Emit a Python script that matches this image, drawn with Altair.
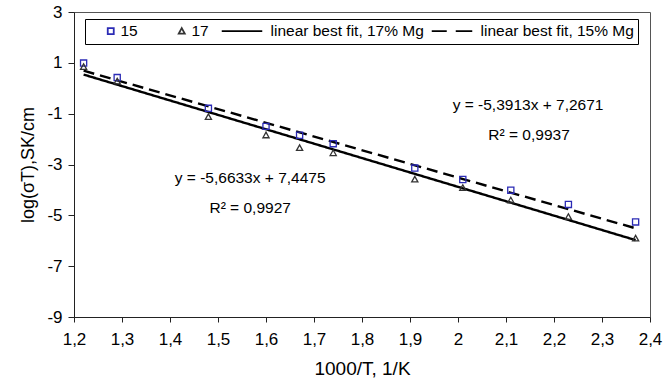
import altair as alt
import pandas as pd

# ---- data ----
x_vals = [1.22, 1.29, 1.48, 1.60, 1.67, 1.74, 1.91, 2.01, 2.11, 2.23, 2.37]
y_15 = [0.99, 0.42, -0.79, -1.50, -1.85, -2.18, -3.14, -3.59, -4.01, -4.57, -5.26]
y_17 = [0.84, 0.27, -1.13, -1.85, -2.35, -2.55, -3.59, -3.92, -4.41, -5.06, -5.91]

series = ["15", "17", "linear best fit, 17% Mg", "linear best fit, 15% Mg"]

fit_x = [1.22, 2.37]
fit17_slope, fit17_icpt = -5.6633, 7.4475
fit15_slope, fit15_icpt = -5.3913, 7.2671

ann_x = [2.146, 2.148, 1.567, 1.567]
ann_y = [-0.67, -1.85, -3.54, -4.72]
ann_text = ["y = -5,3913x + 7,2671", "R² = 0,9937", "y = -5,6633x + 7,4475", "R² = 0,9927"]

x_ticks = [1.2, 1.3, 1.4, 1.5, 1.6, 1.7, 1.8, 1.9, 2.0, 2.1, 2.2, 2.3, 2.4]
y_ticks = [-9, -7, -5, -3, -1, 1, 3]

# ---- tables ----
pts = pd.DataFrame({
    "x": x_vals + x_vals,
    "y": y_15 + y_17,
    "series": ["15"] * len(x_vals) + ["17"] * len(x_vals),
})
fit = pd.DataFrame({
    "x": fit_x + fit_x,
    "y": [fit17_slope * v + fit17_icpt for v in fit_x] + [fit15_slope * v + fit15_icpt for v in fit_x],
    "fit": ["17", "17", "15", "15"],
})
ann = pd.DataFrame({"x": ann_x, "y": ann_y, "text": ann_text})

FONT = "Liberation Sans"

xscale = alt.Scale(domain=[1.2, 2.4], nice=False, zero=False)
yscale = alt.Scale(domain=[-9, 3], nice=False, zero=False)

xaxis = alt.Axis(values=x_ticks, labelExpr="replace('' + datum.value, '.', ',')",
                 grid=False, tickSize=5, labelPadding=9, labelFontSize=17,
                 titleFontSize=19, titlePadding=12, labelFlush=False)
yaxis = alt.Axis(values=y_ticks, labelExpr="'' + datum.value",
                 grid=False, tickSize=6, labelPadding=6, labelFontSize=17,
                 titleFontSize=18, titlePadding=9)

X = alt.X("x:Q", scale=xscale, axis=xaxis, title="1000/T, 1/K")
Y = alt.Y("y:Q", scale=yscale, axis=yaxis, title="log(σT),SK/cm")

# symbol shapes; the zero-length sub-paths are invisible and only widen the legend spacing
shapes = [
    "square",
    "M-12,0L-12,0M0,-1L1,0.8L-1,0.8Z",
    "M-14.5,0L-14.5,0M-13,0H0.5",
    "M-13,0H-8M-5,0H0.5",
]
colors = ["#2b2bb5", "#333333", "#000000", "#000000"]

leg = alt.Legend(title="xx", titleColor="white", titleOrient="left", titlePadding=0,
                 titleFontSize=12,
                 orient="none", legendX=11, legendY=7,
                 direction="horizontal", fillColor="white", strokeColor="black",
                 padding=4, labelFontSize=15.5, labelFont=FONT, labelColor="black",
                 columnPadding=4, symbolSize=36, symbolStrokeWidth=1.8, labelOffset=2,
                 symbolFillColor="white")

lines = alt.Chart(fit).mark_line(color="black", strokeWidth=2.4).encode(
    x=X, y=Y,
    strokeDash=alt.StrokeDash("fit:N", scale=alt.Scale(domain=["17", "15"], range=[[1, 0], [11, 6]]), legend=None),
    detail="fit:N",
)

points = alt.Chart(pts).mark_point(filled=False, size=38, opacity=1, strokeWidth=1.3).encode(
    x=X, y=Y,
    shape=alt.Shape("series:N", scale=alt.Scale(domain=series, range=shapes), legend=leg),
    color=alt.Color("series:N", scale=alt.Scale(domain=series, range=colors), legend=leg),
)

texts = alt.Chart(ann).mark_text(font=FONT, fontSize=15.5, color="black").encode(
    x=X, y=Y, text="text:N"
)

chart = alt.layer(lines, points, texts).properties(
    width=576, height=305,
    padding={"left": 74, "top": 12, "right": 20, "bottom": 71},
    autosize=alt.AutoSizeParams(type="none"),
    background="white",
).configure_view(stroke="#555555", strokeWidth=1).configure_axis(
    domainColor="#222222", tickColor="#222222", labelColor="black", titleColor="black",
    labelFont=FONT, titleFont=FONT, titleFontWeight="normal",
)

chart.save("out.html", embed_options={"renderer": "svg", "actions": False})
